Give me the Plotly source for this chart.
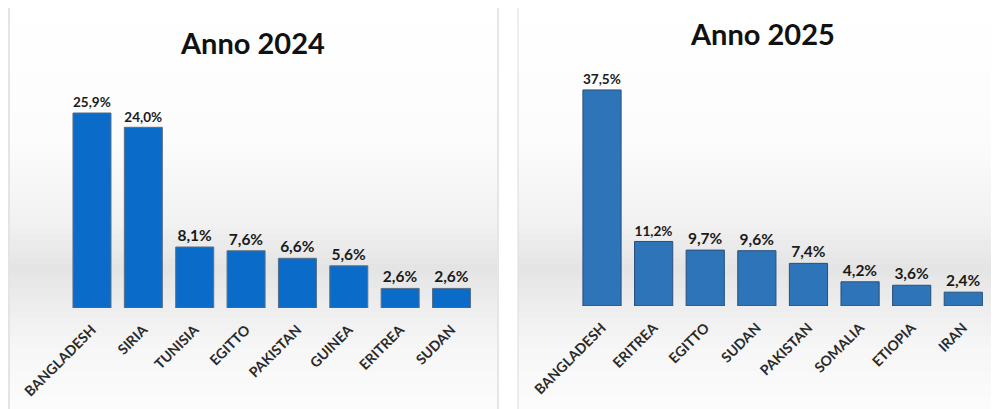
import plotly.graph_objects as go

# ---- data ----
paesi_2024 = ["BANGLADESH", "SIRIA", "TUNISIA", "EGITTO", "PAKISTAN", "GUINEA", "ERITREA", "SUDAN"]
quote_2024 = [25.9, 24.0, 8.1, 7.6, 6.6, 5.6, 2.6, 2.6]
paesi_2025 = ["BANGLADESH", "ERITREA", "EGITTO", "SUDAN", "PAKISTAN", "SOMALIA", "ETIOPIA", "IRAN"]
quote_2025 = [37.5, 11.2, 9.7, 9.6, 7.4, 4.2, 3.6, 2.4]
titoli = ["Anno 2024", "Anno 2025"]

# page body has an 8px margin: the figure is drawn 8px in from the window corner
OFF = 8
W, H = 999 - OFF, 409 - OFF

def px(x):
    return (x - OFF) / W

def py(y):
    return 1 - (y - OFF) / H

fig = go.Figure()

fig.add_trace(go.Bar(
    x=paesi_2024, y=quote_2024, xaxis="x", yaxis="y",
    marker=dict(color="#0a6cc8", line=dict(color="#5a6f86", width=1)),
    texttemplate="%{y:.1f}%", textposition="outside", cliponaxis=False,
    textfont=dict(family="Lato", size=15.5, color="#1a1a1a", weight="bold"),
    hoverinfo="x+y", showlegend=False,
))
fig.add_trace(go.Bar(
    x=paesi_2025, y=quote_2025, xaxis="x2", yaxis="y2",
    marker=dict(color="#2e74b8", line=dict(color="#2a4f78", width=1)),
    texttemplate="%{y:.1f}%", textposition="outside", cliponaxis=False,
    textfont=dict(family="Lato", size=15.5, color="#1a1a1a", weight="bold"),
    hoverinfo="x+y", showlegend=False,
))

# ---- background gradient bands for each panel ----
stops = [(0, 255), (140, 252), (220, 242), (268, 228), (300, 236), (345, 246), (409, 252)]

def grey_at(y):
    for (y0, g0), (y1, g1) in zip(stops[:-1], stops[1:]):
        if y0 <= y <= y1:
            t = (y - y0) / (y1 - y0) if y1 > y0 else 0
            return int(round(g0 + (g1 - g0) * t))
    return stops[-1][1]

shapes = []
panels = [(8, 499, 6), (518, 999, 0)]
step = 6
for (x0, x1, ytop) in panels:
    y = ytop
    while y < 409:
        yb = min(409, y + step)
        g = grey_at((y + yb) / 2)
        shapes.append(dict(type="rect", xref="paper", yref="paper",
                           x0=px(x0), x1=px(x1), y0=py(yb), y1=py(y),
                           fillcolor=f"rgb({g},{g},{g})", line=dict(width=0), layer="below"))
        y = yb
# panel borders
shapes.append(dict(type="line", xref="paper", yref="paper", x0=px(9), x1=px(9), y0=py(409), y1=py(6),
                   line=dict(color="#e4e4e4", width=2), layer="below"))
shapes.append(dict(type="line", xref="paper", yref="paper", x0=px(8), x1=px(499), y0=py(6.5), y1=py(6.5),
                   line=dict(color="#e8e8e8", width=1.5), layer="below"))
shapes.append(dict(type="line", xref="paper", yref="paper", x0=px(498), x1=px(498), y0=py(409), y1=py(6),
                   line=dict(color="#e6e6e6", width=2), layer="below"))
shapes.append(dict(type="line", xref="paper", yref="paper", x0=px(518), x1=px(518), y0=py(409), y1=py(8),
                   line=dict(color="#dcdcdc", width=1), layer="below"))

tickfont = dict(family="Lato", size=14, color="#2a2a2a", weight="bold")

fig.update_layout(
    width=W, height=H,
    margin=dict(l=0, r=0, t=0, b=0, autoexpand=False),
    paper_bgcolor="white", plot_bgcolor="rgba(0,0,0,0)",
    separators=",.",
    bargap=0.26,
    shapes=shapes,
    xaxis=dict(domain=[px(66.3), px(477.2)], anchor="y", tickangle=-45, tickfont=tickfont,
               showline=False, showgrid=False, ticks="", ticklabelstandoff=10, automargin=False),
    yaxis=dict(domain=[py(308), py(95)], anchor="x", range=[0, 28.29], visible=False),
    xaxis2=dict(domain=[px(576.2), px(989.1)], anchor="y2", tickangle=-45, tickfont=tickfont,
                showline=False, showgrid=False, ticks="", ticklabelstandoff=10, automargin=False),
    yaxis2=dict(domain=[py(306), py(60)], anchor="x2", range=[0, 42.7], visible=False),
    annotations=[
        dict(text=titoli[0], xref="paper", yref="paper", x=px(252), y=py(42),
             xanchor="center", yanchor="middle", showarrow=False,
             font=dict(family="Lato", size=29, color="#111111", weight="bold")),
        dict(text=titoli[1], xref="paper", yref="paper", x=px(762), y=py(34),
             xanchor="center", yanchor="middle", showarrow=False,
             font=dict(family="Lato", size=29, color="#111111", weight="bold")),
    ],
)

fig.write_html("out.html")
